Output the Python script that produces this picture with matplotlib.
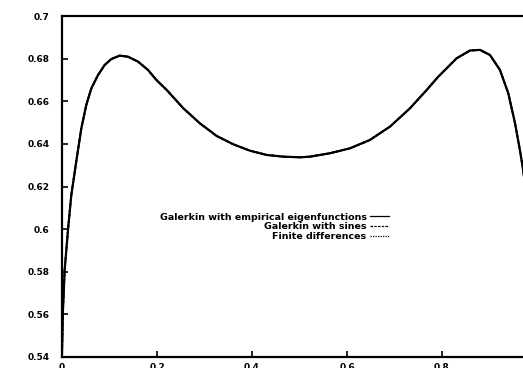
import matplotlib
matplotlib.use("Agg")
import matplotlib.pyplot as plt

plt.rcParams["font.family"] = ["DejaVu Sans"]
plt.rcParams["font.weight"] = "bold"

# values (three methods coincide to within line width)
x_vals = [0.0, 0.002, 0.0056, 0.0126, 0.0196, 0.030, 0.0407, 0.0512, 0.0617, 0.0758,
          0.0898, 0.1038, 0.1214, 0.139, 0.160, 0.181, 0.1986, 0.2204, 0.2554, 0.2905,
          0.3257, 0.3606, 0.3958, 0.431, 0.466, 0.501, 0.522, 0.543, 0.564, 0.606,
          0.648, 0.6905, 0.7326, 0.7678, 0.792, 0.8028, 0.831, 0.859, 0.880, 0.901,
          0.922, 0.9396, 0.9537, 0.964, 0.970, 0.980, 0.990, 1.0]
y_empirical = [0.542, 0.562, 0.5808, 0.5996, 0.616, 0.6317, 0.6473, 0.6583, 0.666, 0.6723,
               0.677, 0.6798, 0.6814, 0.6809, 0.6786, 0.6747, 0.670, 0.6653, 0.6567, 0.6496,
               0.6437, 0.6398, 0.6368, 0.6348, 0.634, 0.6337, 0.634, 0.6348, 0.6356, 0.6379,
               0.6418, 0.6481, 0.6567, 0.6653, 0.6715, 0.6739, 0.6802, 0.6838, 0.6841, 0.6817,
               0.6747, 0.6637, 0.6497, 0.6371, 0.6290, 0.612, 0.585, 0.542]
y_sines = y_empirical
y_fd = y_empirical

labels = ["Galerkin with empirical eigenfunctions", "Galerkin with sines", "Finite differences"]
x_ticks = [0, 0.2, 0.4, 0.6, 0.8, 1.0]
x_ticklabels = ["0", "0.2", "0.4", "0.6", "0.8", "1"]
y_ticks = [0.54, 0.56, 0.58, 0.6, 0.62, 0.64, 0.66, 0.68, 0.7]
y_ticklabels = ["0.54", "0.56", "0.58", "0.6", "0.62", "0.64", "0.66", "0.68", "0.7"]

W, H = 523, 368
fig = plt.figure(figsize=(W / 100, H / 100), dpi=100)
ax = fig.add_axes([62 / W, (H - 357) / H, (537 - 62) / W, (357 - 16) / H])

ax.plot(x_vals, y_empirical, color="black", lw=1.6, ls="-", label=labels[0])
ax.plot(x_vals, y_sines, color="black", lw=1.3, ls=(0, (2, 1)), label=labels[1])
ax.plot(x_vals, y_fd, color="black", lw=1.3, ls=(0, (1, 1)), label=labels[2])

ax.set_xlim(0, 1)
ax.set_ylim(0.54, 0.7)
ax.set_xticks(x_ticks)
ax.set_xticklabels(x_ticklabels)
ax.set_yticks(y_ticks)
ax.set_yticklabels(y_ticklabels)
ax.tick_params(direction="in", length=4, width=1.2, labelsize=6.5)
ax.tick_params(axis="y", pad=9)
ax.tick_params(axis="x", pad=4)
for s in ax.spines.values():
    s.set_linewidth(1.6)

leg = ax.legend(loc="upper right", bbox_to_anchor=(394 / W, 1 - 208 / H),
                bbox_transform=fig.transFigure, frameon=False, markerfirst=False,
                fontsize=6.8, handlelength=2.0, handletextpad=0.4, labelspacing=0.08,
                borderpad=0)
for line in leg.get_lines():
    line.set_linewidth(0.9)

fig.savefig("out.png", dpi=100)
